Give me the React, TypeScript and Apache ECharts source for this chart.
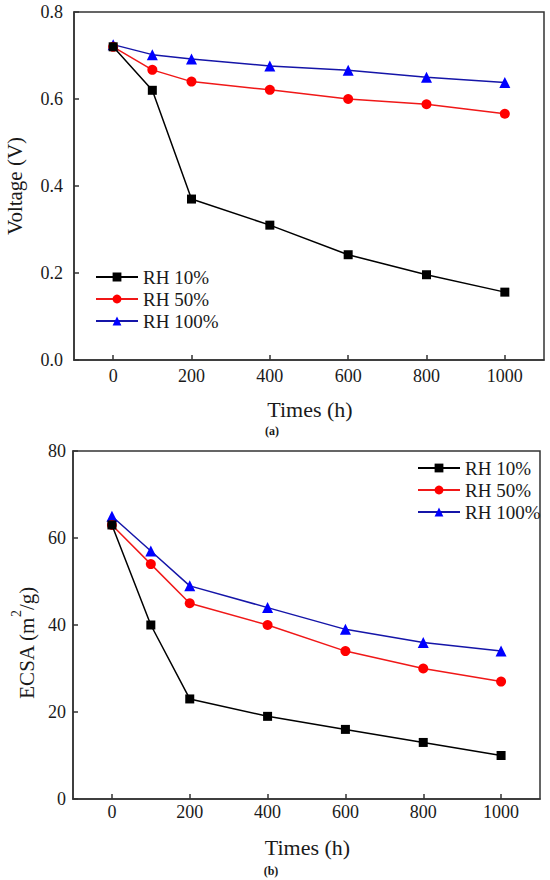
import React, { useEffect, useRef } from "react";
import * as echarts from "echarts";

const times = [0, 100, 200, 400, 600, 800, 1000];
const xTickValues = [0, 200, 400, 600, 800, 1000];
const voltageTicks = [0, 0.2, 0.4, 0.6, 0.8];
const ecsaTicks = [0, 20, 40, 60, 80];
const seriesNames = ["RH 10%", "RH 50%", "RH 100%"];

const voltageRH10 = [0.72, 0.62, 0.37, 0.31, 0.242, 0.196, 0.156];
const voltageRH50 = [0.72, 0.667, 0.64, 0.621, 0.6, 0.588, 0.566];
const voltageRH100 = [0.725, 0.702, 0.692, 0.676, 0.666, 0.65, 0.638];

const ecsaRH10 = [63, 40, 23, 19, 16, 13, 10];
const ecsaRH50 = [63, 54, 45, 40, 34, 30, 27];
const ecsaRH100 = [65, 57, 49, 44, 39, 36, 34];

const FONT = "Liberation Serif";
const AXIS_COLOR = "#333";
const TEXT_COLOR = "#1a1a1a";

const markerColors = ["#000000", "#ff0000", "#0000ff"];
const lineColors = ["#000000", "#f01818", "#1515a8"];
const symbols = ["rect", "circle", "triangle"];
const symbolSizes = [9, 10, 11];

function pairs(vals: number[]) {
  return times.map((t, i) => [t, vals[i]]);
}

function xAxisFor(gridIndex: number) {
  return {
    type: "value",
    gridIndex,
    min: -100,
    max: 1100,
    axisLine: { show: true, onZero: false, lineStyle: { color: AXIS_COLOR, width: 1.5 } },
    axisTick: {
      show: true,
      inside: true,
      length: 5,
      customValues: xTickValues,
      lineStyle: { color: AXIS_COLOR, width: 1.5 },
    },
    axisLabel: { show: false },
    splitLine: { show: false },
  };
}

function yAxisFor(gridIndex: number, max: number, interval: number) {
  return {
    type: "value",
    gridIndex,
    min: 0,
    max,
    interval,
    axisLine: { show: true, onZero: false, lineStyle: { color: AXIS_COLOR, width: 1.5 } },
    axisTick: { show: true, inside: true, length: 5, lineStyle: { color: AXIS_COLOR, width: 1.5 } },
    axisLabel: { show: false },
    splitLine: { show: false },
  };
}

function makeSeries(gridIdx: number, sets: number[][]) {
  return sets.map((vals, i) => ({
    type: "line",
    name: seriesNames[i],
    xAxisIndex: gridIdx,
    yAxisIndex: gridIdx,
    data: pairs(vals),
    symbol: symbols[i],
    symbolSize: symbolSizes[i],
    showAllSymbol: true,
    itemStyle: { color: markerColors[i] },
    lineStyle: { color: lineColors[i], width: 1.5 },
    z: 2 + (2 - i),
  }));
}

function legendAt(left: number, top: number) {
  return {
    left,
    top,
    padding: 0,
    orient: "vertical",
    itemWidth: 42,
    itemHeight: 11,
    itemGap: 2,
    data: seriesNames,
    selectedMode: false,
    textStyle: { fontFamily: FONT, fontSize: 19, color: TEXT_COLOR, lineHeight: 20 },
  };
}

function txt(x: number, y: number, text: string, size: number, align: string, extra: any = {}) {
  return {
    type: "text",
    x,
    y,
    silent: true,
    style: {
      text,
      fontFamily: FONT,
      fontSize: size,
      fill: TEXT_COLOR,
      align,
      verticalAlign: "middle",
      ...extra,
    },
  };
}

export default function App() {
  const ref = useRef<HTMLDivElement>(null);

  useEffect(() => {
    if (!ref.current) return;
    const chart = echarts.init(ref.current, undefined, { renderer: "svg" });
    chart.setOption({
      animation: false,
      backgroundColor: "#ffffff",
      textStyle: { fontFamily: FONT },
      grid: [
        { left: 74, right: 6, top: 12, height: 348, show: true, borderColor: AXIS_COLOR, borderWidth: 1.5, backgroundColor: "transparent" },
        { left: 73, right: 10, top: 451, height: 348, show: true, borderColor: AXIS_COLOR, borderWidth: 1.5, backgroundColor: "transparent" },
      ],
      xAxis: [xAxisFor(0), xAxisFor(1)],
      yAxis: [yAxisFor(0, 0.8, 0.2), yAxisFor(1, 80, 20)],
      legend: [legendAt(95, 267), legendAt(417, 458)],
      series: [
        ...makeSeries(0, [voltageRH10, voltageRH50, voltageRH100]),
        ...makeSeries(1, [ecsaRH10, ecsaRH50, ecsaRH100]),
      ],
    });

    // Axis tick labels and titles, placed through the axes' own scales
    const gfx: any[] = [];
    const panels = [
      { g: 0, yTicks: voltageTicks, fmt: (v: number) => v.toFixed(1), labelDy: 16, yGap: 11, titleDy: 49 },
      { g: 1, yTicks: ecsaTicks, fmt: (v: number) => String(v), labelDy: 13, yGap: 7, titleDy: 48 },
    ];
    panels.forEach((p) => {
      const xLeft = chart.convertToPixel({ xAxisIndex: p.g }, -100) as number;
      const xRight = chart.convertToPixel({ xAxisIndex: p.g }, 1100) as number;
      const yBase = chart.convertToPixel({ yAxisIndex: p.g }, 0) as number;
      xTickValues.forEach((v) => {
        const x = chart.convertToPixel({ xAxisIndex: p.g }, v) as number;
        gfx.push(txt(x, yBase + p.labelDy, String(v), 18, "center"));
      });
      p.yTicks.forEach((v) => {
        const y = chart.convertToPixel({ yAxisIndex: p.g }, v) as number;
        gfx.push(txt(xLeft - p.yGap, y, p.fmt(v), 18, "right"));
      });
      gfx.push(txt((xLeft + xRight) / 2 + 1, yBase + p.titleDy, "Times (h)", 22, "center"));
    });

    gfx.push({
      type: "text",
      x: 15,
      y: 186,
      rotation: Math.PI / 2,
      silent: true,
      style: {
        text: "Voltage (V)",
        fontFamily: FONT,
        fontSize: 21,
        fill: TEXT_COLOR,
        align: "center",
        verticalAlign: "middle",
      },
    });
    gfx.push({
      type: "text",
      x: 23,
      y: 643,
      rotation: Math.PI / 2,
      silent: true,
      style: {
        text: "{a|ECSA (m}{sup|2}{a|/g)}",
        fontFamily: FONT,
        fontSize: 21,
        fill: TEXT_COLOR,
        align: "center",
        verticalAlign: "middle",
        rich: {
          a: { fontFamily: FONT, fontSize: 21, fill: TEXT_COLOR, lineHeight: 28, verticalAlign: "bottom" },
          sup: { fontFamily: FONT, fontSize: 14, fill: TEXT_COLOR, lineHeight: 12, verticalAlign: "top" },
        },
      },
    });
    gfx.push(txt(272, 431, "(a)", 12, "center", { fontWeight: "bold" }));
    gfx.push(txt(271, 871, "(b)", 12, "center", { fontWeight: "bold" }));

    chart.setOption({ graphic: gfx });
    return () => chart.dispose();
  }, []);

  return (
    <div
      ref={ref}
      style={{ position: "fixed", left: 0, top: 0, width: 550, height: 880, background: "#fff" }}
    />
  );
}
